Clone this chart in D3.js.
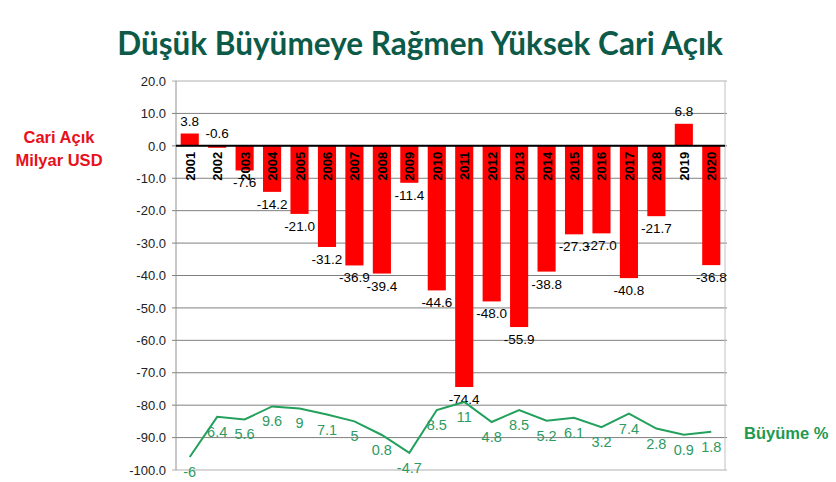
<!DOCTYPE html>
<html>
<head>
<meta charset="utf-8">
<script src="https://cdn.jsdelivr.net/npm/d3@7"></script>
<style>
body{margin:0;background:#fff;}
text{font-family:"Liberation Sans",Arial,sans-serif;}
</style>
</head>
<body>
<div id="svg"></div>
<script>
var years = ["2001","2002","2003","2004","2005","2006","2007","2008","2009","2010",
             "2011","2012","2013","2014","2015","2016","2017","2018","2019","2020"];
var cariAcik = [3.8,-0.6,-7.6,-14.2,-21.0,-31.2,-36.9,-39.4,-11.4,-44.6,
                -74.4,-48.0,-55.9,-38.8,-27.3,-27.0,-40.8,-21.7,6.8,-36.8];
var buyume = [-6,6.4,5.6,9.6,9,7.1,5,0.8,-4.7,8.5,
              11,4.8,8.5,5.2,6.1,3.2,7.4,2.8,0.9,1.8];
var yTicks = [20,10,0,-10,-20,-30,-40,-50,-60,-70,-80,-90,-100];

var W = 836, H = 482;
var plotL = 176, plotR = 725, plotT = 81, plotB = 470;

// plain hyphen for negatives, like the original
var fmt = d3.formatLocale({decimal:".",thousands:",",grouping:[3],currency:["",""],minus:"-"}).format(".1f");

var svg = d3.select("#svg").append("svg").attr("width",W).attr("height",H);

var x = d3.scaleBand().domain(years).range([plotL,plotR]).paddingInner(0.34).paddingOuter(0.17);
var y = d3.scaleLinear().domain([-100,20]).range([plotB,plotT]);
// growth is on a hidden secondary axis
var y2 = d3.scaleLinear().domain([-10,110]).range([plotB,plotT]);

// title
svg.append("text").attr("x",420).attr("y",55)
  .attr("text-anchor","middle")
  .style("font-family","Lato, 'Open Sans', sans-serif")
  .style("font-weight","bold").style("font-size","31.5px")
  .attr("fill","#0c5a48")
  .text("Düşük Büyümeye Rağmen Yüksek Cari Açık");

// grid
svg.append("g").selectAll("line").data(yTicks).enter().append("line")
  .attr("x1",plotL-4).attr("x2",plotR+2)
  .attr("y1",d => y(d)).attr("y2",d => y(d))
  .attr("stroke",d => d==20 || d==-100 ? "#b0b0b0" : "#808080").attr("stroke-width",1);

svg.append("line").attr("x1",plotL).attr("x2",plotL).attr("y1",plotT).attr("y2",plotB)
  .attr("stroke","#909090");
svg.append("line").attr("x1",plotR).attr("x2",plotR).attr("y1",plotT).attr("y2",plotB)
  .attr("stroke","#c0c0c0");

var yAxis = d3.axisLeft(y).tickValues(yTicks).tickFormat(fmt).tickSize(0).tickPadding(10);
var ga = svg.append("g").attr("transform","translate(" + plotL + ",0)").call(yAxis);
ga.select(".domain").remove();
ga.selectAll("text").style("font-size","13px").attr("fill","#222")
  .style("font-family","'Liberation Sans',Arial,sans-serif");

// bars
svg.append("g").selectAll("rect").data(cariAcik).enter().append("rect")
  .attr("x",(d,i) => x(years[i]))
  .attr("width",x.bandwidth())
  .attr("y",d => y(Math.max(d,0)))
  .attr("height",d => Math.abs(y(d)-y(0)))
  .attr("fill","#ff0000");

// zero line
svg.append("line").attr("x1",plotL).attr("x2",plotR).attr("y1",y(0)).attr("y2",y(0))
  .attr("stroke","#000").attr("stroke-width",2);

// year labels
svg.append("g").selectAll("text").data(years).enter().append("text")
  .attr("transform",d => "translate(" + (x(d)+x.bandwidth()/2+5) + "," + (y(0)+6) + ") rotate(-90)")
  .attr("text-anchor","end")
  .style("font-size","13px").style("font-weight","bold")
  .attr("fill","#000")
  .text(d => d);

// bar value labels
svg.append("g").selectAll("text").data(cariAcik).enter().append("text")
  .attr("x",(d,i) => x(years[i])+x.bandwidth()/2)
  .attr("y",d => d > -5 ? y(Math.max(d,0))-8 : y(d)+17)
  .attr("text-anchor","middle")
  .style("font-size","13.5px")
  .attr("fill","#000")
  .text(d => fmt(d));

// growth line
var line = d3.line()
  .x((d,i) => x(years[i])+x.bandwidth()/2)
  .y(d => y2(d));

svg.append("path").datum(buyume).attr("d",line)
  .attr("fill","none").attr("stroke","#22a05c").attr("stroke-width",2);

svg.append("g").selectAll("text").data(buyume).enter().append("text")
  .attr("x",(d,i) => x(years[i])+x.bandwidth()/2)
  .attr("y",d => y2(d)+20)
  .attr("text-anchor","middle")
  .style("font-size","14.5px")
  .attr("fill","#2e9a63")
  .text(d => d);

// side labels
var lab = svg.append("g").style("font-family","Lato, 'Open Sans', sans-serif")
  .style("font-weight","bold").style("font-size","16.5px");
lab.append("text").attr("x",59).attr("y",143).attr("text-anchor","middle").attr("fill","#e8101a").text("Cari Açık");
lab.append("text").attr("x",59).attr("y",166).attr("text-anchor","middle").attr("fill","#e8101a").text("Milyar USD");
lab.append("text").attr("x",744).attr("y",439).attr("fill","#1e9a50").text("Büyüme %");
</script>
</body>
</html>
